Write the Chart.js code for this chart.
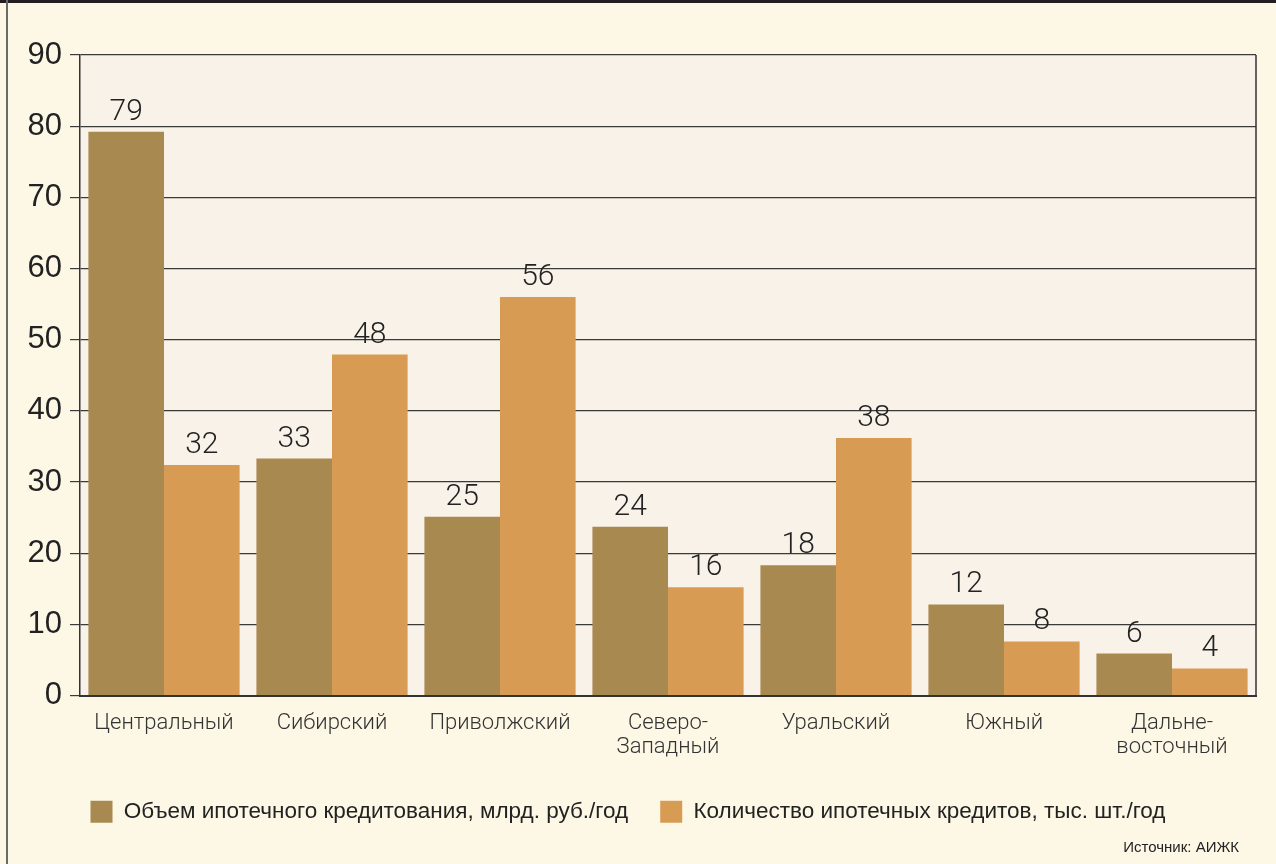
<!DOCTYPE html>
<html>
<head>
<meta charset="utf-8">
<script src="https://cdn.jsdelivr.net/npm/chart.js@4/dist/chart.umd.min.js"></script>
<style>
  html, body { margin: 0; padding: 0; background: #fdf8e6; }
  #wrap { width: 1276px; height: 864px; position: relative; }
</style>
</head>
<body>
<div id="wrap"><canvas id="chart" width="1276" height="864"></canvas></div>
<script>
const regions = ['Центральный', 'Сибирский', 'Приволжский', ['Северо-', 'Западный'], 'Уральский', 'Южный', ['Дальне-', 'восточный']];
const volume = [79.2, 33.3, 25.1, 23.7, 18.3, 12.8, 5.9];
const count = [32.4, 47.9, 56.0, 15.2, 36.2, 7.6, 3.8];
const volumeLabels = ['79', '33', '25', '24', '18', '12', '6'];
const countLabels = ['32', '48', '56', '16', '38', '8', '4'];
const yTicks = [0, 10, 20, 30, 40, 50, 60, 70, 80, 90];
const seriesNames = ['Объем ипотечного кредитования, млрд. руб./год', 'Количество ипотечных кредитов, тыс. шт./год'];
const source = 'Источник: АИЖК';

const geo = "'Roboto', 'DejaVu Sans', sans-serif";
const sans = "'Liberation Sans', Arial, sans-serif";

const decor = {
  id: 'decor',
  beforeDraw(chart) {
    const { ctx, chartArea: a } = chart;
    ctx.save();
    ctx.fillStyle = '#fdf8e6';
    ctx.fillRect(0, 0, chart.width, chart.height);
    ctx.fillStyle = '#f9f2e9';
    ctx.fillRect(a.left, a.top, a.right - a.left, a.bottom - a.top);
    ctx.restore();
  },
  afterDraw(chart) {
    const { ctx, chartArea: a } = chart;
    ctx.save();
    // frame
    ctx.fillStyle = '#231f20';
    ctx.fillRect(0, 0, chart.width, 3);
    ctx.fillStyle = '#6b6b6b';
    ctx.fillRect(6, 0, 2, chart.height);
    // right border of plot
    ctx.strokeStyle = '#333';
    ctx.lineWidth = 1.5;
    ctx.beginPath();
    ctx.moveTo(a.right, a.top);
    ctx.lineTo(a.right, a.bottom);
    ctx.stroke();
    // value labels
    ctx.fillStyle = '#222';
    ctx.font = '300 30px ' + geo;
    ctx.textAlign = 'center';
    ctx.textBaseline = 'alphabetic';
    [volumeLabels, countLabels].forEach((labels, di) => {
      chart.getDatasetMeta(di).data.forEach((bar, i) => {
        ctx.fillText(labels[i], bar.x, bar.y - 12);
      });
    });
    // source
    ctx.font = '15px ' + sans;
    ctx.textAlign = 'right';
    ctx.textBaseline = 'middle';
    ctx.fillStyle = '#222';
    ctx.fillText(source, 1239, 848);
    ctx.restore();
  }
};

new Chart(document.getElementById('chart'), {
  type: 'bar',
  data: {
    labels: regions,
    datasets: [
      { label: seriesNames[0], data: volume, backgroundColor: '#a88a51' },
      { label: seriesNames[1], data: count, backgroundColor: '#d79b53' }
    ]
  },
  options: {
    responsive: false,
    animation: false,
    layout: { padding: { left: 0, top: 55, right: 20, bottom: 31 } },
    datasets: { bar: { categoryPercentage: 0.9, barPercentage: 1.0 } },
    plugins: {
      tooltip: { enabled: false },
      legend: {
        position: 'bottom',
        labels: {
          boxWidth: 22,
          boxHeight: 22,
          padding: 32,
          color: '#222',
          font: { family: sans, size: 22.5 }
        }
      }
    },
    scales: {
      x: {
        grid: { display: false },
        border: { color: '#333', width: 2 },
        ticks: {
          color: '#333',
          padding: 8,
          maxRotation: 0,
          autoSkip: false,
          font: { family: geo, size: 22, weight: '300', lineHeight: 1.08 }
        },
        afterFit(s) { s.height = 73; }
      },
      y: {
        min: 0,
        max: 90,
        afterBuildTicks(s) { s.ticks = yTicks.map(v => ({ value: v })); },
        grid: { color: '#3a3a3a', lineWidth: 1.2, tickLength: 10 },
        border: { color: '#333', width: 1.5 },
        ticks: {
          color: '#222',
          padding: 8,
          font: { family: sans, size: 31 }
        },
        afterFit(s) { s.width = 80; }
      }
    }
  },
  plugins: [decor]
});
</script>
</body>
</html>
